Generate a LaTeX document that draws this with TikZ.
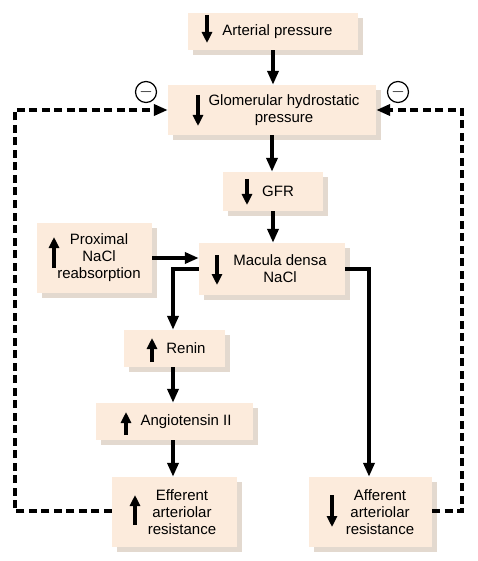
\documentclass[tikz,border=0pt]{standalone}
\usepackage{fontspec}
\setmainfont{Liberation Sans}
\usetikzlibrary{arrows.meta,shadows}

\definecolor{boxfill}{HTML}{FCEBDC}
\definecolor{boxshade}{HTML}{E3D9CF}

\tikzset{
  box/.style={fill=boxfill, inner sep=0pt,
    general shadow={fill=boxshade, shadow xshift=5pt, shadow yshift=-5pt}},
  boxtext/.style={align=center, inner sep=0pt, font=\fontsize{15}{17}\selectfont},
  flow/.style={line width=4pt, -{Triangle[length=14pt,width=11pt]}},
  feedback/.style={line width=3.6pt, dash pattern=on 8pt off 4.5pt,
    -{Triangle[length=14pt,width=11pt]}},
  updown/.style={line width=3.6pt, -{Triangle[length=11pt,width=10pt]}},
  minus/.style={circle, draw, line width=1.2pt, minimum size=21pt, inner sep=0pt,
    font=\fontsize{18}{18}\selectfont}
}

\begin{document}
\begin{tikzpicture}[x=1pt,y=-1pt]
  \fill[white] (0,0) rectangle (478,561);

  % boxes
  \node[box, minimum width=170pt, minimum height=37pt] (ap) at (273,31.5) {};
  \node[box, minimum width=208pt, minimum height=50pt] (ghp) at (272,110) {};
  \node[box, minimum width=100pt, minimum height=39pt] (gfr) at (273,191.5) {};
  \node[box, minimum width=146pt, minimum height=52pt] (md) at (272,269) {};
  \node[box, minimum width=115pt, minimum height=70pt] (pnr) at (94.5,258) {};
  \node[box, minimum width=101pt, minimum height=37pt] (renin) at (174.5,348.5) {};
  \node[box, minimum width=157pt, minimum height=37pt] (ang) at (174.5,421.5) {};
  \node[box, minimum width=125pt, minimum height=70pt] (eff) at (174.5,512) {};
  \node[box, minimum width=123pt, minimum height=70pt] (aff) at (370.5,512) {};

  % texts
  \node[boxtext] (ap-t) at ([xshift=4.5pt]ap.center) {Arterial pressure};
  \node[boxtext] (ghp-t) at ([xshift=12pt]ghp.center) {Glomerular hydrostatic\\pressure};
  \node[boxtext] (gfr-t) at ([xshift=5pt]gfr.center) {GFR};
  \node[boxtext] (md-t) at ([xshift=8pt]md.center) {Macula densa\\NaCl};
  \node[boxtext] (pnr-t) at ([xshift=4.5pt]pnr.center) {Proximal\\NaCl\\reabsorption};
  \node[boxtext] (renin-t) at ([xshift=11.5pt]renin.center) {Renin};
  \node[boxtext] (ang-t) at ([xshift=11.5pt]ang.center) {Angiotensin II};
  \node[boxtext] (eff-t) at ([xshift=7.5pt]eff.center) {Efferent\\arteriolar\\resistance};
  \node[boxtext] (aff-t) at ([xshift=9.5pt]aff.center) {Afferent\\arteriolar\\resistance};

  % up / down marks
  \draw[updown] (207,15) -- (207,43);
  \draw[updown] (198,95) -- (198,126);
  \draw[updown] (247,179) -- (247,205);
  \draw[updown] (217,255) -- (217,285);
  \draw[updown] (54,268) -- (54,237);
  \draw[updown] (152,362) -- (152,338);
  \draw[updown] (126,435) -- (126,412);
  \draw[updown] (135,525) -- (135,495);
  \draw[updown] (332,495) -- (332,527);

  % main chain
  \draw[flow] (ap.south) -- (ap.south |- ghp.north);
  \draw[flow] (ghp.south) -- (ghp.south |- gfr.north);
  \draw[flow] (gfr.south) -- (gfr.south |- md.north);
  \draw[flow] (pnr.east) -- (pnr.east -| md.west);
  \draw[flow] (md.west) -| ([xshift=-1.5pt]renin.north);
  \draw[flow] (md.east) -| ([xshift=-1.5pt]aff.north);
  \draw[flow] ([xshift=-1.5pt]renin.south) -- ([xshift=-1.5pt]ang.north);
  \draw[flow] ([xshift=-1.5pt]ang.south) -- ([xshift=-1.5pt]eff.north);

  % feedback
  \node[minus] (mleft) at (146,92) {$-$};
  \node[minus] (mright) at (398,92) {$-$};
  \draw[feedback] ([yshift=1pt]eff.west) -- ++(-97,0) |- (ghp.west);
  \draw[feedback] ([yshift=1pt]aff.east) -- ++(30,0) |- (ghp.east);
\end{tikzpicture}
\end{document}
